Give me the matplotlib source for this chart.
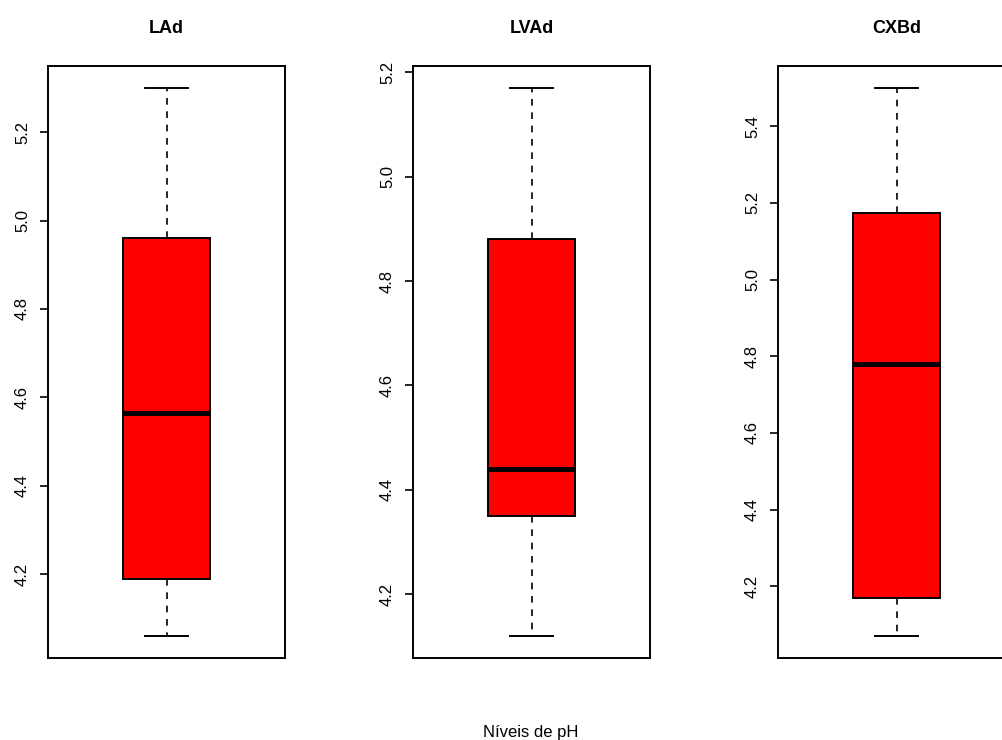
import numpy as np
import matplotlib.pyplot as plt

# Box statistics (pH levels)
titles = ['LAd', 'LVAd', 'CXBd']
whis_lo = [4.06, 4.12, 4.07]
q1 = [4.19, 4.35, 4.17]
med = [4.565, 4.44, 4.78]
q3 = [4.96, 4.88, 5.175]
whis_hi = [5.30, 5.17, 5.50]
yticks = [[4.2, 4.4, 4.6, 4.8, 5.0, 5.2],
          [4.2, 4.4, 4.6, 4.8, 5.0, 5.2],
          [4.2, 4.4, 4.6, 4.8, 5.0, 5.2, 5.4]]

plt.rcParams['font.family'] = ['Liberation Sans', 'DejaVu Sans']

W, H = 1002, 740
fig = plt.figure(figsize=(W / 100, H / 100), dpi=100)

for i in range(3):
    left = 48 + 365 * i
    ax = fig.add_axes([left / W, (H - 658) / H, 237 / W, 592 / H])
    stats = [dict(whislo=whis_lo[i], q1=q1[i], med=med[i], q3=q3[i], whishi=whis_hi[i], fliers=[])]
    ax.bxp(stats, positions=[1], widths=0.4, patch_artist=True, showfliers=False,
           boxprops=dict(facecolor='red', edgecolor='black', linewidth=1.4),
           medianprops=dict(color='black', linewidth=3.5, solid_capstyle='butt'),
           whiskerprops=dict(color='black', linewidth=1.2, linestyle=(0, (4, 4))),
           capprops=dict(color='black', linewidth=1.4))

    # R style 4% padding of the data range
    rng = whis_hi[i] - whis_lo[i]
    ax.set_ylim(whis_lo[i] - 0.04 * rng, whis_hi[i] + 0.04 * rng)
    ax.set_xlim(0.46, 1.54)
    ax.set_xticks([])
    ax.set_yticks(yticks[i])
    ax.set_yticklabels(['%.1f' % t for t in yticks[i]], rotation=90, va='center', fontsize=12)
    ax.tick_params(axis='y', length=6, width=1.2, pad=7)
    for s in ax.spines.values():
        s.set_linewidth(1.4)
        s.set_clip_on(False)
    ax.set_title(titles[i], fontsize=13, fontweight='bold', pad=24)

fig.text(531 / W, (H - 733) / H, 'Níveis de pH', ha='center', va='center', fontsize=12)

plt.savefig('out.png', dpi=100)
